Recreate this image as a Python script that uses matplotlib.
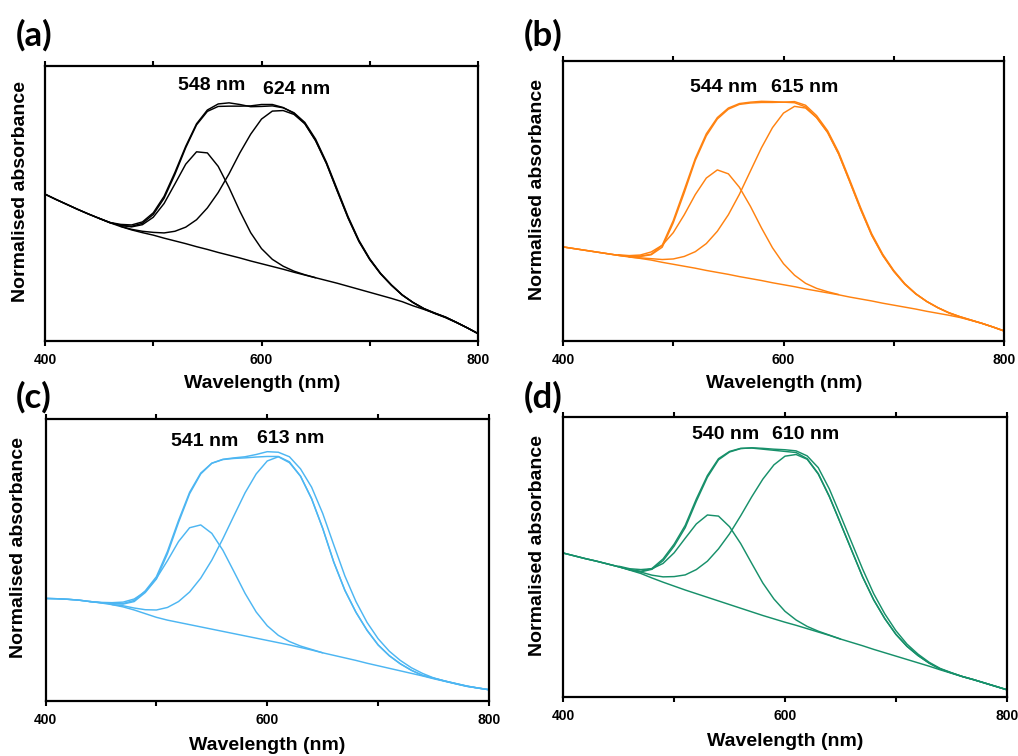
import numpy as np
import matplotlib
matplotlib.use("Agg")
import matplotlib.pyplot as plt

# ---------------- data (normalised absorbance) ----------------
WL = np.arange(400, 801, 10)          # shared wavelength grid (nm)
WL_P1 = np.arange(450, 651, 10)       # first-component grid
WL_P1C = np.arange(440, 651, 10)
WL_P2A = np.arange(470, 801, 10)
WL_P2 = np.arange(460, 801, 10)

# panel (a) - black
base_a = [0.534, 0.515, 0.497, 0.479, 0.462, 0.446, 0.430, 0.416, 0.404, 0.394,
          0.385, 0.374, 0.364, 0.354, 0.343, 0.333, 0.322, 0.312, 0.302, 0.291,
          0.281, 0.271, 0.261, 0.250, 0.240, 0.230, 0.220, 0.210, 0.199, 0.188,
          0.177, 0.166, 0.155, 0.143, 0.128, 0.115, 0.101, 0.086, 0.068, 0.048, 0.027]
fit_a = [0.534, 0.515, 0.497, 0.479, 0.462, 0.446, 0.430, 0.421, 0.417, 0.428,
         0.460, 0.519, 0.606, 0.703, 0.786, 0.835, 0.853, 0.854, 0.854, 0.855,
         0.860, 0.860, 0.849, 0.828, 0.791, 0.729, 0.646, 0.546, 0.448, 0.363,
         0.297, 0.245, 0.203, 0.167, 0.140, 0.118, 0.102, 0.087, 0.068, 0.048, 0.027]
meas_a = [0.534, 0.515, 0.497, 0.479, 0.462, 0.446, 0.431, 0.424, 0.422, 0.433,
          0.466, 0.526, 0.613, 0.708, 0.790, 0.840, 0.862, 0.866, 0.860, 0.852,
          0.853, 0.855, 0.848, 0.830, 0.795, 0.734, 0.650, 0.551, 0.452, 0.366,
          0.299, 0.246, 0.204, 0.168, 0.140, 0.117, 0.100, 0.085, 0.067, 0.048, 0.027]
peak1_a = [0.446, 0.431, 0.420, 0.415, 0.423, 0.450, 0.500, 0.571, 0.643, 0.688,
           0.684, 0.635, 0.558, 0.472, 0.394, 0.336, 0.297, 0.272, 0.254, 0.241, 0.230]
peak2_a = [0.417, 0.406, 0.399, 0.395, 0.393, 0.399, 0.414, 0.441, 0.484, 0.540,
           0.608, 0.684, 0.752, 0.807, 0.836, 0.838, 0.824, 0.790, 0.728, 0.645,
           0.545, 0.447, 0.362, 0.296, 0.244, 0.203, 0.167, 0.140, 0.118, 0.101,
           0.087, 0.068, 0.048, 0.027]

# panel (b) - orange
base_b = [0.336, 0.330, 0.324, 0.318, 0.312, 0.306, 0.300, 0.295, 0.289, 0.281,
          0.274, 0.267, 0.260, 0.252, 0.245, 0.238, 0.230, 0.223, 0.216, 0.208,
          0.201, 0.194, 0.186, 0.179, 0.172, 0.165, 0.157, 0.150, 0.143, 0.135,
          0.128, 0.121, 0.114, 0.106, 0.099, 0.092, 0.084, 0.074, 0.063, 0.050, 0.036]
fit_b = [0.336, 0.330, 0.324, 0.318, 0.312, 0.306, 0.302, 0.302, 0.308, 0.335,
         0.422, 0.530, 0.645, 0.733, 0.793, 0.828, 0.845, 0.850, 0.852, 0.852,
         0.853, 0.851, 0.836, 0.798, 0.745, 0.668, 0.570, 0.470, 0.378, 0.306,
         0.249, 0.203, 0.168, 0.141, 0.119, 0.101, 0.087, 0.075, 0.063, 0.050, 0.036]
meas_b = [0.336, 0.330, 0.324, 0.318, 0.312, 0.306, 0.302, 0.303, 0.310, 0.342,
          0.430, 0.540, 0.652, 0.740, 0.798, 0.832, 0.848, 0.853, 0.856, 0.855,
          0.853, 0.855, 0.842, 0.805, 0.751, 0.674, 0.576, 0.476, 0.383, 0.310,
          0.252, 0.205, 0.169, 0.141, 0.119, 0.100, 0.086, 0.074, 0.063, 0.050, 0.036]
peak1_b = [0.308, 0.305, 0.307, 0.318, 0.342, 0.387, 0.451, 0.523, 0.582, 0.611,
           0.597, 0.549, 0.481, 0.404, 0.333, 0.276, 0.235, 0.206, 0.188, 0.176, 0.166]
peak2_b = [0.300, 0.297, 0.294, 0.291, 0.293, 0.302, 0.319, 0.348, 0.392, 0.451,
           0.524, 0.607, 0.690, 0.762, 0.814, 0.838, 0.832, 0.798, 0.745, 0.668,
           0.570, 0.470, 0.378, 0.306, 0.249, 0.203, 0.168, 0.141, 0.119, 0.101,
           0.087, 0.075, 0.063, 0.050, 0.036]

# panel (c) - light blue
base_c = [0.363, 0.362, 0.360, 0.357, 0.352, 0.347, 0.341, 0.333, 0.322, 0.309,
          0.296, 0.286, 0.278, 0.270, 0.262, 0.254, 0.246, 0.238, 0.230, 0.222,
          0.214, 0.206, 0.198, 0.189, 0.180, 0.170, 0.161, 0.152, 0.143, 0.133,
          0.124, 0.115, 0.106, 0.097, 0.088, 0.078, 0.069, 0.060, 0.051, 0.045, 0.039]
fit_c = [0.363, 0.362, 0.360, 0.357, 0.352, 0.348, 0.345, 0.345, 0.356, 0.390,
         0.440, 0.530, 0.640, 0.740, 0.808, 0.843, 0.856, 0.860, 0.862, 0.865,
         0.867, 0.867, 0.848, 0.797, 0.717, 0.612, 0.492, 0.392, 0.314, 0.250,
         0.198, 0.160, 0.131, 0.108, 0.090, 0.080, 0.070, 0.061, 0.052, 0.045, 0.039]
meas_c = [0.363, 0.362, 0.360, 0.357, 0.352, 0.348, 0.344, 0.343, 0.352, 0.384,
          0.432, 0.522, 0.633, 0.735, 0.805, 0.843, 0.857, 0.862, 0.866, 0.874,
          0.884, 0.882, 0.866, 0.823, 0.758, 0.665, 0.553, 0.443, 0.352, 0.278,
          0.220, 0.176, 0.143, 0.117, 0.097, 0.081, 0.070, 0.060, 0.051, 0.045, 0.039]
peak1_c = [0.352, 0.349, 0.348, 0.350, 0.361, 0.387, 0.434, 0.497, 0.565, 0.614,
           0.624, 0.594, 0.534, 0.458, 0.381, 0.315, 0.266, 0.232, 0.210, 0.194,
           0.182, 0.170]
peak2_c = [0.341, 0.337, 0.329, 0.323, 0.322, 0.331, 0.352, 0.386, 0.435, 0.499,
           0.575, 0.657, 0.738, 0.805, 0.851, 0.866, 0.845, 0.797, 0.717, 0.612,
           0.492, 0.392, 0.314, 0.250, 0.198, 0.160, 0.131, 0.108, 0.090, 0.080,
           0.070, 0.061, 0.052, 0.045, 0.039]

# panel (d) - green
base_d = [0.513, 0.503, 0.493, 0.484, 0.474, 0.464, 0.452, 0.440, 0.424, 0.409,
          0.395, 0.381, 0.368, 0.355, 0.342, 0.329, 0.316, 0.303, 0.290, 0.278,
          0.266, 0.255, 0.243, 0.231, 0.219, 0.206, 0.194, 0.182, 0.169, 0.157,
          0.145, 0.133, 0.121, 0.109, 0.096, 0.084, 0.072, 0.061, 0.049, 0.037, 0.025]
fit_d = [0.513, 0.503, 0.493, 0.484, 0.474, 0.464, 0.454, 0.448, 0.458, 0.492,
         0.545, 0.612, 0.706, 0.790, 0.850, 0.876, 0.887, 0.888, 0.884, 0.880,
         0.876, 0.872, 0.850, 0.797, 0.716, 0.620, 0.524, 0.428, 0.346, 0.279,
         0.223, 0.180, 0.147, 0.120, 0.099, 0.085, 0.072, 0.061, 0.049, 0.037, 0.025]
meas_d = [0.513, 0.503, 0.493, 0.484, 0.474, 0.464, 0.453, 0.446, 0.455, 0.486,
          0.538, 0.604, 0.698, 0.784, 0.846, 0.874, 0.886, 0.889, 0.887, 0.884,
          0.882, 0.878, 0.860, 0.818, 0.742, 0.648, 0.552, 0.456, 0.368, 0.296,
          0.236, 0.188, 0.152, 0.123, 0.101, 0.086, 0.072, 0.061, 0.049, 0.037, 0.025]
peak1_d = [0.466, 0.457, 0.454, 0.457, 0.476, 0.514, 0.566, 0.617, 0.649, 0.645,
           0.607, 0.547, 0.476, 0.406, 0.349, 0.305, 0.274, 0.251, 0.234, 0.220, 0.206]
peak2_d = [0.453, 0.445, 0.434, 0.428, 0.429, 0.435, 0.454, 0.484, 0.528, 0.582,
           0.646, 0.714, 0.777, 0.828, 0.859, 0.865, 0.848, 0.795, 0.714, 0.620,
           0.524, 0.428, 0.346, 0.279, 0.223, 0.180, 0.147, 0.120, 0.099, 0.085,
           0.072, 0.061, 0.049, 0.037, 0.025]

panel_letters = ["(a)", "(b)", "(c)", "(d)"]
peak_labels = [("548 nm", "624 nm"), ("544 nm", "615 nm"),
               ("541 nm", "613 nm"), ("540 nm", "610 nm")]
x_tick_values = [400, 500, 600, 700, 800]
x_tick_labels = ["400", "", "600", "", "800"]
colors = ["#000000", "#FF8210", "#4DB6F2", "#17906A"]

# ---------------- layout ----------------
W, H = 1018, 756
FONT = ["Liberation Sans", "DejaVu Sans"]
plt.rcParams["font.family"] = FONT

fig = plt.figure(figsize=(W / 100, H / 100), dpi=100)


def px_rect(left, top, right, bottom):
    return [left / W, 1 - bottom / H, (right - left) / W, (bottom - top) / H]


def fx(px):
    return px / W


def fy(py):
    return 1 - py / H


rects = [px_rect(45, 66, 478, 341), px_rect(563, 61, 1004, 341),
         px_rect(45.5, 419, 489, 700.7), px_rect(563.3, 416.7, 1006.7, 696.7)]

panels = [
    (base_a, fit_a, meas_a, WL_P1, peak1_a, WL_P2A, peak2_a),
    (base_b, fit_b, meas_b, WL_P1, peak1_b, WL_P2, peak2_b),
    (base_c, fit_c, meas_c, WL_P1C, peak1_c, WL_P2, peak2_c),
    (base_d, fit_d, meas_d, WL_P1, peak1_d, WL_P2, peak2_d),
]

letter_pos = [(34, 35), (543, 35), (34, 397), (543, 397)]
peak_pos = [((212, 85), (297, 90)), ((724, 88), (805, 88)),
            ((205, 441), (291, 438)), ((726, 435), (806, 435))]
ylabel_pos = [(21, 192), (537, 190), (19, 548), (537, 545)]
xlabel_pos = [(262, 384), (784, 384), (267, 745), (785, 741)]

for i, (rect, data) in enumerate(zip(rects, panels)):
    base, fit, meas, wl1, p1, wl2, p2 = data
    c = colors[i]
    ax = fig.add_axes(rect)
    lw = 1.05
    kw = dict(color=c, lw=lw, solid_joinstyle="round", solid_capstyle="round")
    ax.plot(WL, base, **kw)
    ax.plot(wl1, p1, **kw)
    ax.plot(wl2, p2, **kw)
    ax.plot(WL, meas, **kw)
    ax.plot(WL, fit, **kw)
    ax.set_xlim(400, 800)
    ax.set_ylim(0, 1)
    ax.set_yticks([])
    ax.set_xticks(x_tick_values)
    ax.set_xticklabels(x_tick_labels)
    ax.tick_params(axis="x", direction="out", top=True, bottom=True,
                   length=3.5, width=1.5, labelsize=10, pad=5)
    for lab in ax.get_xticklabels():
        lab.set_fontweight("bold")
    for s in ax.spines.values():
        s.set_linewidth(1.6)

    lx, ly = letter_pos[i]
    fig.text(fx(lx), fy(ly), panel_letters[i], fontsize=25, fontweight="bold",
             family=["Lato", "DejaVu Sans"], ha="center", va="center")
    (p1x, p1y), (p2x, p2y) = peak_pos[i]
    fig.text(fx(p1x), fy(p1y), peak_labels[i][0], fontsize=14, fontweight="bold",
             ha="center", va="center")
    fig.text(fx(p2x), fy(p2y), peak_labels[i][1], fontsize=14, fontweight="bold",
             ha="center", va="center")
    yx, yy = ylabel_pos[i]
    fig.text(fx(yx), fy(yy), "Normalised absorbance", fontsize=14,
             fontweight="bold", rotation=90, ha="center", va="center")
    xx, xy = xlabel_pos[i]
    fig.text(fx(xx), fy(xy), "Wavelength (nm)", fontsize=14, fontweight="bold",
             ha="center", va="center")

fig.savefig("out.png", dpi=100)
